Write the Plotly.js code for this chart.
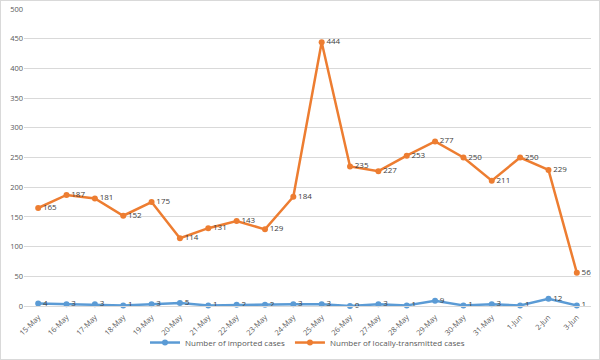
<!DOCTYPE html>
<html>
<head>
<meta charset="utf-8">
<script src="https://cdn.plot.ly/plotly-3.0.1.min.js"></script>
<style>
html,body{margin:0;padding:0;background:#fff;}
#chart{width:600px;height:360px;box-sizing:border-box;border:1px solid #d9d9d9;}
</style>
</head>
<body>
<div id="chart"></div>
<script>
const categories = ["15-May","16-May","17-May","18-May","19-May","20-May","21-May","22-May","23-May","24-May","25-May","26-May","27-May","28-May","29-May","30-May","31-May","1-Jun","2-Jun","3-Jun"];
const importedCases = [4,3,3,1,3,5,1,2,2,3,3,0,3,1,9,1,3,1,12,1];
const localCases = [165,187,181,152,175,114,131,143,129,184,444,235,227,253,277,250,211,250,229,56];
const yTicks = [0,50,100,150,200,250,300,350,400,450,500];

const labelFont = {family:"Open Sans, Liberation Sans, sans-serif", size:8, color:"#404040"};

const traces = [
  {
    x: categories, y: importedCases, name: "Number of imported cases",
    type: "scatter", mode: "lines+markers+text",
    text: importedCases.map(String), textposition: "middle right",
    textfont: labelFont,
    line: {color:"#5B9BD5", width:2.5}, marker: {color:"#5B9BD5", size:6},
    cliponaxis: false
  },
  {
    x: categories, y: localCases, name: "Number of locally-transmitted cases",
    type: "scatter", mode: "lines+markers+text",
    text: localCases.map(String), textposition: "middle right",
    textfont: labelFont,
    line: {color:"#ED7D31", width:2.5}, marker: {color:"#ED7D31", size:6},
    cliponaxis: false
  }
];

const layout = {
  width: 598, height: 358,
  margin: {l: 23, r: 8, t: 8, b: 53, autoexpand: false},
  paper_bgcolor: "#fff", plot_bgcolor: "#fff",
  font: {family:"Open Sans, Liberation Sans, sans-serif", size:8, color:"#595959"},
  showlegend: true,
  legend: {orientation:"h", x:0.5, xanchor:"center", y:-0.123, yanchor:"middle",
           bgcolor:"rgba(0,0,0,0)", font:{size:8, color:"#595959"}},
  xaxis: {
    type: "category", range: [-0.5, categories.length - 0.5],
    tickangle: -45, showgrid: false, zeroline: false,
    automargin: false,
    showline: true, linecolor: "#d9d9d9", linewidth: 1,
    ticks: "outside", ticklen: 3, tickcolor: "rgba(0,0,0,0)",
    tickfont: {size:7.5, color:"#595959"}, fixedrange: true
  },
  yaxis: {
    range: [0, 500], tickvals: yTicks, ticktext: yTicks.map(String),
    automargin: false,
    showgrid: true, gridcolor: "#d9d9d9", gridwidth: 1, zeroline: false,
    showline: false, ticks: "", tickfont: {size:7.5, color:"#595959"}, fixedrange: true
  }
};

Plotly.newPlot("chart", traces, layout, {displayModeBar:false, staticPlot:true});
</script>
</body>
</html>
